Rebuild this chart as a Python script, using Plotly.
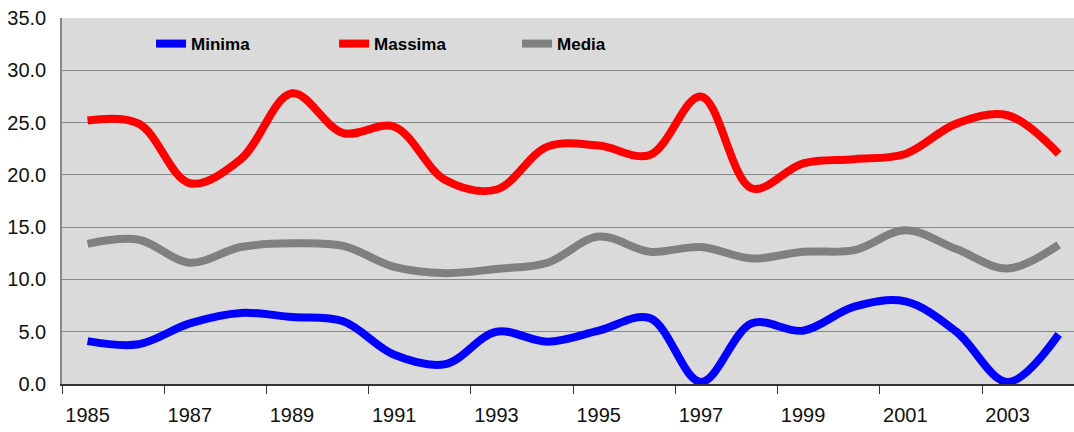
import plotly.graph_objects as go

years = list(range(1985, 2005))
minima = [4.1, 3.8, 5.8, 6.8, 6.4, 6.0, 2.8, 1.9, 5.0, 4.05, 5.1, 6.3, 0.2,
          5.8, 5.1, 7.4, 7.9, 5.0, 0.2, 4.75]
massima = [25.2, 24.9, 19.2, 21.5, 27.8, 24.0, 24.6, 19.5, 18.6, 22.7, 22.8, 21.9, 27.5,
           18.7, 21.1, 21.5, 22.0, 24.9, 25.7, 22.0]
media = [13.4, 13.8, 11.6, 13.1, 13.45, 13.2, 11.2, 10.6, 11.0, 11.6, 14.1, 12.65, 13.1,
         12.0, 12.65, 12.8, 14.7, 12.9, 11.05, 13.3]
tick_years = [1985, 1987, 1989, 1991, 1993, 1995, 1997, 1999, 2001, 2003]
boundaries = [y - 0.5 for y in range(1985, 2005, 2)]

series = [("Minima", minima, "#0000FF"),
          ("Massima", massima, "#FF0000"),
          ("Media", media, "#808080")]

fig = go.Figure()
for name, vals, col in series:
    fig.add_trace(go.Scatter(
        x=years, y=vals, name=name, mode="lines",
        line=dict(color=col, width=8, shape="spline", smoothing=1.0),
    ))

tickfont = dict(family="Liberation Sans, Arial", size=20, color="#111111")

fig.update_layout(
    width=1074, height=432,
    margin=dict(l=62, r=0, t=18, b=48),
    paper_bgcolor="white",
    plot_bgcolor="#dadada",
    showlegend=True,
    legend=dict(
        orientation="h", x=0.088, y=0.978, xanchor="left", yanchor="top",
        bgcolor="rgba(0,0,0,0)",
        font=dict(family="Liberation Sans, Arial", size=17, color="black", weight="bold"),
        entrywidth=138, entrywidthmode="pixels",
    ),
    xaxis=dict(
        range=[1984.5, 2004.3], automargin=False,
        tickvals=tick_years, ticktext=[str(y) for y in tick_years],
        ticks="", showgrid=False, zeroline=False,
        showline=True, linecolor="#333333", linewidth=1.5,
        tickfont=tickfont, ticklabelstandoff=12,
        minor=dict(tickvals=boundaries, ticks="outside", ticklen=8,
                   tickcolor="#333333", tickwidth=1, showgrid=False),
    ),
    yaxis=dict(
        range=[0, 35], dtick=5, tickformat=".1f", automargin=False,
        ticks="", showgrid=True, gridcolor="#888888", gridwidth=1,
        zeroline=False, showline=True, linecolor="#888888", linewidth=1.5,
        tickfont=tickfont, ticklabelstandoff=10,
    ),
)

fig.write_html("out.html", config={"displayModeBar": False},
               post_script="document.body.style.margin='0';")
